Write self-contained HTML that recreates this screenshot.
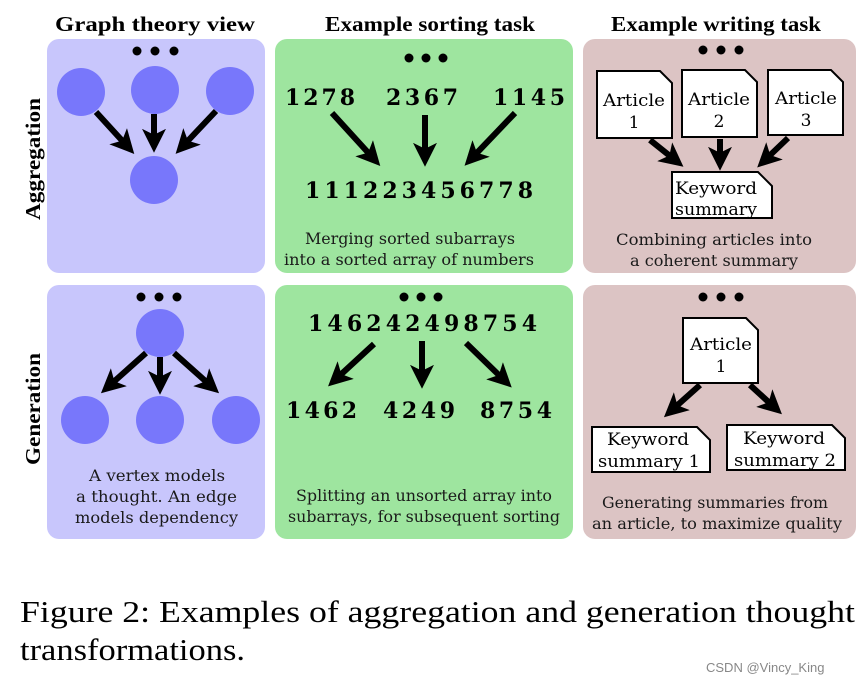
<!DOCTYPE html>
<html><head><meta charset="utf-8"><style>
html,body{margin:0;padding:0;background:#fff;}
svg{display:block;}
text{font-family:"DejaVu Serif","Liberation Serif",serif;}
.h{font-family:"Liberation Serif",serif;font-weight:bold;font-size:21px;}
.n{font-weight:bold;font-size:22px;}
.c{font-size:16px;fill:#1a1a1a;}
.b{font-size:17px;}
</style></head><body>
<svg width="858" height="685" viewBox="0 0 858 685" xmlns="http://www.w3.org/2000/svg">
<defs>
<marker id="ah" markerWidth="4" markerHeight="4" refX="2.2" refY="2" orient="auto" markerUnits="strokeWidth">
<path d="M0,0 L4,2 L0,4 L1,2 z" fill="#000"/></marker>
</defs>
<text class="h" x="55" y="31" textLength="200" lengthAdjust="spacingAndGlyphs">Graph theory view</text>
<text class="h" x="325" y="31" textLength="210" lengthAdjust="spacingAndGlyphs">Example sorting task</text>
<text class="h" x="611" y="31" textLength="210" lengthAdjust="spacingAndGlyphs">Example writing task</text>
<text class="h" transform="translate(40,220) rotate(-90)" textLength="122" lengthAdjust="spacingAndGlyphs">Aggregation</text>
<text class="h" transform="translate(40,465) rotate(-90)" textLength="112" lengthAdjust="spacingAndGlyphs">Generation</text>

<rect x="47" y="39" width="218" height="234" rx="12" fill="#c8c6fc"/>
<rect x="47" y="285" width="218" height="254" rx="12" fill="#c8c6fc"/>
<rect x="275" y="39" width="298" height="234" rx="12" fill="#9ee59f"/>
<rect x="275" y="285" width="298" height="254" rx="12" fill="#9ee59f"/>
<rect x="583" y="39" width="273" height="234" rx="12" fill="#dcc4c4"/>
<rect x="583" y="285" width="273" height="254" rx="12" fill="#dcc4c4"/>

<g fill="#000">
<circle cx="137" cy="51" r="4.5"/><circle cx="155" cy="51" r="4.5"/><circle cx="174" cy="51" r="4.5"/>
<circle cx="141" cy="297" r="4.5"/><circle cx="159" cy="297" r="4.5"/><circle cx="177" cy="297" r="4.5"/>
<circle cx="409" cy="58" r="4.5"/><circle cx="426" cy="58" r="4.5"/><circle cx="443" cy="58" r="4.5"/>
<circle cx="404" cy="297" r="4.5"/><circle cx="421" cy="297" r="4.5"/><circle cx="438" cy="297" r="4.5"/>
<circle cx="703" cy="50" r="4.5"/><circle cx="721" cy="50" r="4.5"/><circle cx="739" cy="50" r="4.5"/>
<circle cx="703" cy="297" r="4.5"/><circle cx="721" cy="297" r="4.5"/><circle cx="739" cy="297" r="4.5"/>
</g>

<g fill="#7877fb">
<circle cx="81" cy="92" r="24"/><circle cx="155" cy="90" r="24"/><circle cx="230" cy="91" r="24"/><circle cx="154" cy="180" r="24"/>
<circle cx="160" cy="333" r="24"/><circle cx="85" cy="420" r="24"/><circle cx="160" cy="420" r="24"/><circle cx="236" cy="420" r="24"/>
</g>
<g stroke="#000" stroke-width="6" marker-end="url(#ah)" fill="none">
<line x1="96" y1="112" x2="127" y2="146"/>
<line x1="154" y1="114" x2="154" y2="142"/>
<line x1="216" y1="111" x2="183" y2="146"/>
<line x1="146" y1="353" x2="109" y2="386"/>
<line x1="160" y1="357" x2="160" y2="384"/>
<line x1="174" y1="353" x2="211" y2="386"/>
<line x1="332" y1="113" x2="373" y2="158"/>
<line x1="425" y1="115" x2="425" y2="156"/>
<line x1="515" y1="113" x2="472" y2="158"/>
<line x1="374" y1="344" x2="336" y2="379"/>
<line x1="422" y1="341" x2="422" y2="378"/>
<line x1="466" y1="343" x2="504" y2="380"/>
<line x1="650" y1="140" x2="675" y2="160"/>
<line x1="720" y1="139" x2="720" y2="160"/>
<line x1="788" y1="138" x2="765" y2="160"/>
<line x1="700" y1="385" x2="672" y2="410"/>
<line x1="750" y1="385" x2="774" y2="407"/>
</g>

<text class="n" x="285" y="105" textLength="70" lengthAdjust="spacing">1278</text>
<text class="n" x="386" y="105" textLength="72" lengthAdjust="spacing">2367</text>
<text class="n" x="493" y="105" textLength="72" lengthAdjust="spacing">1145</text>
<text class="n" x="305" y="198" textLength="228" lengthAdjust="spacing">111223456778</text>
<text class="n" x="308" y="331" textLength="229" lengthAdjust="spacing">146242498754</text>
<text class="n" x="286" y="418" textLength="71" lengthAdjust="spacing">1462</text>
<text class="n" x="383" y="418" textLength="72" lengthAdjust="spacing">4249</text>
<text class="n" x="480" y="418" textLength="72" lengthAdjust="spacing">8754</text>

<text class="c" x="89" y="481" textLength="136" lengthAdjust="spacingAndGlyphs">A vertex models</text>
<text class="c" x="76" y="502" textLength="161" lengthAdjust="spacingAndGlyphs">a thought. An edge</text>
<text class="c" x="75" y="523" textLength="163" lengthAdjust="spacingAndGlyphs">models dependency</text>
<text class="c" x="305" y="244" textLength="210" lengthAdjust="spacingAndGlyphs">Merging sorted subarrays</text>
<text class="c" x="284" y="265" textLength="250" lengthAdjust="spacingAndGlyphs">into a sorted array of numbers</text>
<text class="c" x="296" y="501" textLength="256" lengthAdjust="spacingAndGlyphs">Splitting an unsorted array into</text>
<text class="c" x="288" y="522" textLength="272" lengthAdjust="spacingAndGlyphs">subarrays, for subsequent sorting</text>
<text class="c" x="616" y="245" textLength="196" lengthAdjust="spacingAndGlyphs">Combining articles into</text>
<text class="c" x="630" y="266" textLength="168" lengthAdjust="spacingAndGlyphs">a coherent summary</text>
<text class="c" x="602" y="508" textLength="226" lengthAdjust="spacingAndGlyphs">Generating summaries from</text>
<text class="c" x="592" y="529" textLength="250" lengthAdjust="spacingAndGlyphs">an article, to maximize quality</text>

<g fill="#fff" stroke="#000" stroke-width="2">
<path d="M597,71 H660 L672,83 V138 H597 Z"/>
<path d="M682,70 H745 L757,82 V137 H682 Z"/>
<path d="M768,70 H831 L843,82 V135 H768 Z"/>
<path d="M672,172 H758 L772,186 V218 H672 Z"/>
<path d="M683,318 H746 L758,330 V383 H683 Z"/>
<path d="M592,427 H697 L710,440 V472 H592 Z"/>
<path d="M727,425 H832 L845,438 V470 H727 Z"/>
</g>
<g text-anchor="middle">
<text class="b" x="634" y="106" textLength="62" lengthAdjust="spacingAndGlyphs">Article</text><text class="b" x="634" y="128">1</text>
<text class="b" x="719" y="105" textLength="62" lengthAdjust="spacingAndGlyphs">Article</text><text class="b" x="719" y="127">2</text>
<text class="b" x="806" y="104" textLength="62" lengthAdjust="spacingAndGlyphs">Article</text><text class="b" x="806" y="126">3</text>
<text class="b" x="716" y="194" textLength="82" lengthAdjust="spacingAndGlyphs">Keyword</text><text class="b" x="716" y="215" textLength="82" lengthAdjust="spacingAndGlyphs">summary</text>
<text class="b" x="721" y="350" textLength="62" lengthAdjust="spacingAndGlyphs">Article</text><text class="b" x="721" y="372">1</text>
<text class="b" x="648" y="445" textLength="82" lengthAdjust="spacingAndGlyphs">Keyword</text><text class="b" x="649" y="467" textLength="102" lengthAdjust="spacingAndGlyphs">summary 1</text>
<text class="b" x="784" y="444" textLength="82" lengthAdjust="spacingAndGlyphs">Keyword</text><text class="b" x="785" y="466" textLength="102" lengthAdjust="spacingAndGlyphs">summary 2</text>
</g>

<text x="20" y="622" style="font-family:'Liberation Serif',serif;font-size:31px;" textLength="835" lengthAdjust="spacingAndGlyphs">Figure 2: Examples of aggregation and generation thought</text>
<text x="20" y="660" style="font-family:'Liberation Serif',serif;font-size:31px;" textLength="225" lengthAdjust="spacingAndGlyphs">transformations.</text>
<text x="706" y="672" style="font-family:'Liberation Sans',sans-serif;font-size:13px;fill:#888;">CSDN @Vincy_King</text>
</svg>
</body></html>
